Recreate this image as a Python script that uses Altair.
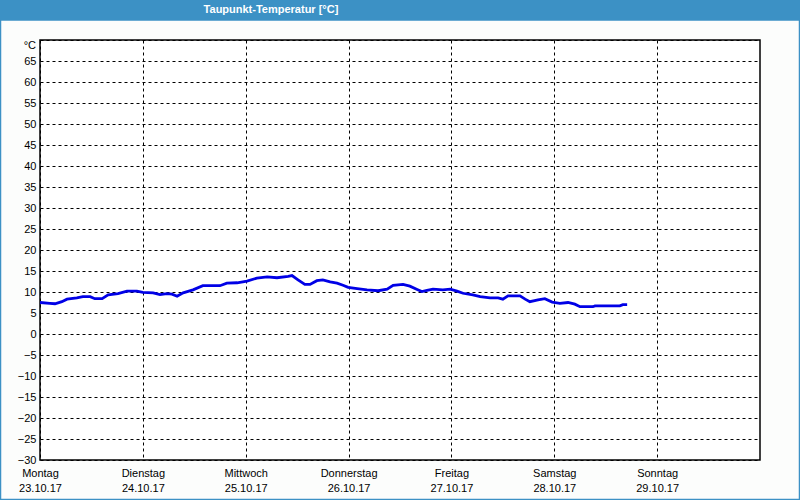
import altair as alt
import pandas as pd

# hours since Montag 23.10.17 00:00
hours = [0, 2.3, 3.5, 5.1, 6.3, 8.6, 10.0, 11.7, 12.8, 14.5, 15.9, 18.2, 20.3, 22.6,
         24.0, 26.4, 28.0, 29.6, 30.8, 32.0, 33.4, 35.7, 38.0, 42.0, 43.6, 46.0,
         48.3, 50.6, 53.0, 55.3, 57.9, 58.8, 60.2, 61.8, 63.0, 64.6, 66.0, 67.7,
         69.3, 70.7, 71.9, 74.0, 76.3, 78.9, 81.0, 82.4, 84.7, 86.3, 88.0, 89.1,
         90.3, 91.7, 94.0, 95.7, 97.3, 98.7, 101.0, 102.7, 105.0, 106.9, 108.0,
         109.2, 112.0, 113.2, 114.3, 116.2, 117.8, 119.5, 121.3, 123.2, 124.8,
         126.0, 129.0, 129.5, 135.3, 136.0, 137.0]
dew = [7.5, 7.3, 7.2, 7.7, 8.3, 8.6, 8.9, 8.9, 8.4, 8.4, 9.3, 9.6, 10.2, 10.2,
       9.9, 9.8, 9.4, 9.6, 9.5, 9.0, 9.8, 10.5, 11.5, 11.5, 12.1, 12.2,
       12.6, 13.3, 13.6, 13.4, 13.7, 13.9, 12.9, 11.8, 11.8, 12.7, 12.9, 12.4,
       12.1, 11.6, 11.1, 10.8, 10.5, 10.3, 10.7, 11.6, 11.8, 11.4, 10.6, 10.1,
       10.4, 10.7, 10.5, 10.7, 10.2, 9.7, 9.3, 8.9, 8.6, 8.6, 8.3,
       9.1, 9.1, 8.3, 7.7, 8.1, 8.4, 7.6, 7.3, 7.5, 7.1,
       6.5, 6.5, 6.7, 6.7, 7.0, 7.0]

day_names = ["Montag", "Dienstag", "Mittwoch", "Donnerstag", "Freitag", "Samstag", "Sonntag"]
day_dates = ["23.10.17", "24.10.17", "25.10.17", "26.10.17", "27.10.17", "28.10.17", "29.10.17"]
x_tick_hours = [0, 24, 48, 72, 96, 120, 144]
y_ticks = list(range(-30, 70, 5))

title_text = "Taupunkt-Temperatur [°C]"
unit_text = "°C"

FONT = "Liberation Sans"
df = pd.DataFrame({"h": hours, "v": dew})
one = pd.DataFrame({"a": [0]})

names_js = "[" + ",".join(f"'{n}'" for n in day_names) + "]"
dates_js = "[" + ",".join(f"'{d}'" for d in day_dates) + "]"
x_label_expr = f"[{names_js}[round(datum.value/24)], {dates_js}[round(datum.value/24)]]"

x_scale = alt.Scale(domain=[0, 168], nice=False, zero=False)
y_scale = alt.Scale(domain=[-30, 70], nice=False, zero=False)

line = alt.Chart(df).mark_line(color="#0000e6", strokeWidth=2.8).encode(
    x=alt.X("h:Q", scale=x_scale, title=None,
            axis=alt.Axis(values=x_tick_hours, labelExpr=x_label_expr, grid=True,
                          gridDash=[3, 3], gridColor="black", gridOpacity=1,
                          ticks=False, domain=False, labelPadding=7,
                          labelLineHeight=15, labelFont=FONT, labelFontSize=11,
                          labelColor="black", labelFlush=False)),
    y=alt.Y("v:Q", scale=y_scale, title=None,
            axis=alt.Axis(values=y_ticks + [70], grid=True, gridDash=[3, 3],
                          gridColor="black", gridOpacity=1, ticks=False, domain=False,
                          labelExpr="datum.value >= 70 ? '' : datum.label",
                          labelPadding=4, labelFont=FONT, labelFontSize=11,
                          labelColor="black")),
)

bar = alt.Chart(one).mark_rect(color="#3c91c5").encode(
    x=alt.value(-40), x2=alt.value(760), y=alt.value(-40), y2=alt.value(-20))

title = alt.Chart(one).mark_text(
    text=title_text, color="white", font="Liberation Sans Narrow, Liberation Sans",
    fontWeight="bold", fontSize=11, align="center", baseline="middle"
).encode(x=alt.value(231), y=alt.value(-30))

unit = alt.Chart(one).mark_text(
    text=unit_text, color="black", font=FONT, fontSize=11, align="right",
    baseline="middle").encode(x=alt.value(-4), y=alt.value(6))

frame = alt.Chart(one).mark_rect(fill=None, stroke="#3c91c5", strokeWidth=1.5).encode(
    x=alt.value(-39.5), x2=alt.value(759.5), y=alt.value(-20), y2=alt.value(459.5))

chart = alt.layer(bar, frame, line, title, unit).properties(
    width=720, height=420,
    padding={"left": 40, "top": 40, "right": 40, "bottom": 40},
    autosize=alt.AutoSizeParams(type="none"),
    background="#fcfdfc",
).configure_view(stroke="black", strokeWidth=1.5, fill="white")

chart.save("out.html", embed_options={"renderer": "svg", "actions": False})
